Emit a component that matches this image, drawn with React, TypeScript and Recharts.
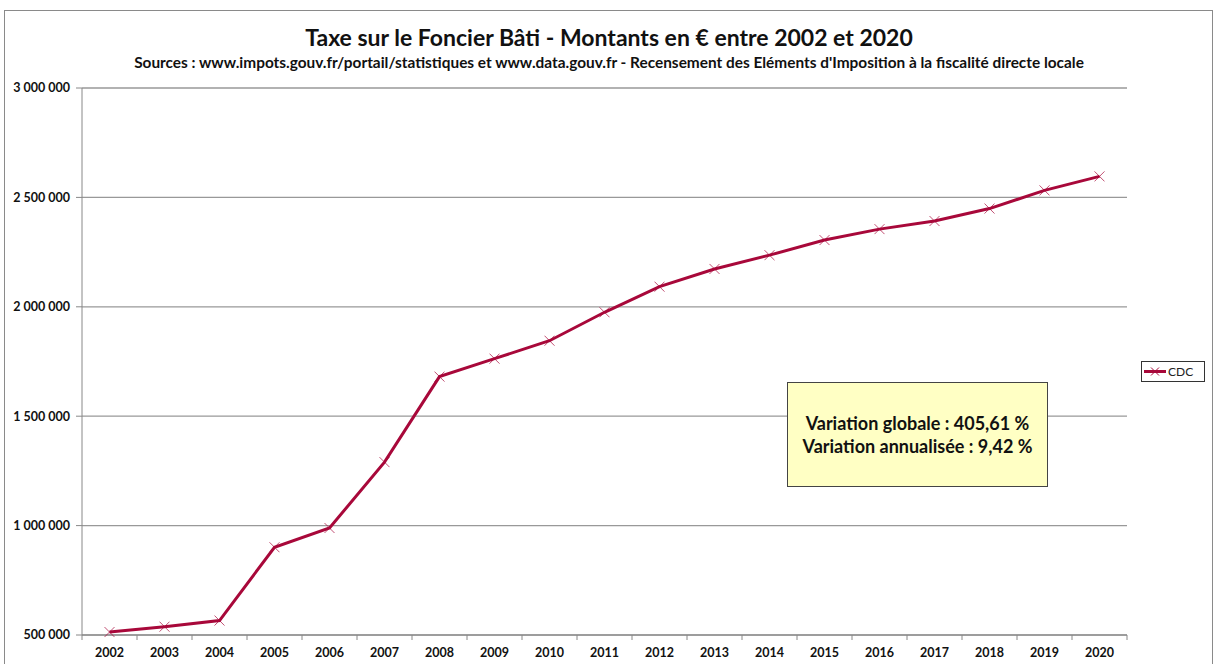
import React from "react";
import { LineChart, Line, XAxis, YAxis, CartesianGrid, Legend } from "recharts";

const years = ["2002","2003","2004","2005","2006","2007","2008","2009","2010","2011","2012","2013","2014","2015","2016","2017","2018","2019","2020"];
const cdcValues = [513500, 538000, 566000, 901000, 989000, 1290000, 1681000, 1763000, 1845000, 1975000, 2092000, 2173000, 2236000, 2305000, 2355000, 2392000, 2449000, 2532000, 2596000];
const yTicks = [500000, 1000000, 1500000, 2000000, 2500000, 3000000];
const seriesName = "CDC";
const titleText = "Taxe sur le Foncier Bâti - Montants en € entre 2002 et 2020";
const subtitleText = "Sources : www.impots.gouv.fr/portail/statistiques et www.data.gouv.fr - Recensement des Eléments d'Imposition à la fiscalité directe locale";
const noteLines = ["Variation globale : 405,61 %", "Variation annualisée : 9,42 %"];

const data = years.map((y, i) => ({ year: y, CDC: cdcValues[i] }));

const LINE_COLOR = "#A8083A";
const FONT = "Lato, 'Open Sans', sans-serif";

const fmt = (v: number) => String(v).replace(/\B(?=(\d{3})+(?!\d))/g, " ");

const XMarker = (props: any) => {
  const { cx, cy } = props;
  if (cx == null || cy == null) return null;
  const s = 5;
  return (
    <g>
      <line x1={cx - s} y1={cy - s} x2={cx + s} y2={cy + s} stroke={LINE_COLOR} strokeWidth={1} opacity={0.7} />
      <line x1={cx - s} y1={cy + s} x2={cx + s} y2={cy - s} stroke={LINE_COLOR} strokeWidth={1} opacity={0.7} />
    </g>
  );
};

const BAND = 55;

const XTick = (props: any) => {
  const { x, y, payload, index } = props;
  const last = index === years.length - 1;
  return (
    <g>
      <line x1={x - BAND / 2} y1={y - 8} x2={x - BAND / 2} y2={y - 3} stroke="#888" strokeWidth={1} />
      {last && <line x1={x + BAND / 2} y1={y - 8} x2={x + BAND / 2} y2={y - 3} stroke="#888" strokeWidth={1} />}
      <text x={x} y={y + 14} textAnchor="middle" fontFamily={FONT} fontWeight="bold" fontSize={12.5} fill="#111">
        {payload.value}
      </text>
    </g>
  );
};

const LegendContent = () => (
  <div style={{ border: "1px solid #333", width: 64, height: 21, boxSizing: "border-box", display: "flex", alignItems: "center", background: "#fff" }}>
    <svg width={26} height={19}>
      <line x1={2} y1={9.5} x2={24} y2={9.5} stroke={LINE_COLOR} strokeWidth={3} />
      <line x1={9} y1={5.5} x2={17} y2={13.5} stroke={LINE_COLOR} strokeWidth={1} />
      <line x1={9} y1={13.5} x2={17} y2={5.5} stroke={LINE_COLOR} strokeWidth={1} />
    </svg>
    <span style={{ fontFamily: FONT, fontSize: 12, color: "#222" }}>{seriesName}</span>
  </div>
);

export default function App() {
  return (
    <div style={{ position: "absolute", left: 0, top: 0, width: 1215, height: 664, background: "#fff", overflow: "hidden" }}>
      <div style={{ position: "absolute", left: 4, top: 10, width: 1209, height: 670, border: "1px solid #8a8a8a", boxSizing: "border-box" }} />
      <div style={{ position: "absolute", left: 0, top: 23, width: 1218, textAlign: "center", fontFamily: FONT, fontWeight: "bold", fontSize: 23, lineHeight: "28px", color: "#111" }}>
        {titleText}
      </div>
      <div style={{ position: "absolute", left: 0, top: 52, width: 1218, textAlign: "center", fontFamily: FONT, fontWeight: "bold", fontSize: 15.4, lineHeight: "20px", color: "#111" }}>
        {subtitleText}
      </div>
      <div style={{ position: "absolute", left: 0, top: 0 }}>
        <LineChart width={1215} height={664} data={data} margin={{ top: 88, right: 88, bottom: 4, left: 12 }}>
          <CartesianGrid vertical={false} stroke="#999" strokeWidth={1.3} />
          <XAxis
            dataKey="year"
            interval={0}
            padding={{ left: BAND / 2, right: BAND / 2 }}
            axisLine={{ stroke: "#888" }}
            tickLine={false}
            tick={<XTick />}
            height={25}
          />
          <YAxis
            domain={[500000, 3000000]}
            ticks={yTicks}
            interval={0}
            width={70}
            tickFormatter={fmt}
            axisLine={{ stroke: "#888" }}
            tickLine={{ stroke: "#888" }}
            tickSize={6}
            tickMargin={6}
            tick={{ fontFamily: FONT, fontWeight: "bold", fontSize: 12.5, fill: "#111" }}
          />
          <Legend
            layout="horizontal"
            verticalAlign="middle"
            align="center"
            content={<LegendContent />}
            wrapperStyle={{ position: "absolute", left: 1141, top: 361, width: 64, height: 21 }}
          />
          <Line
            type="linear"
            dataKey="CDC"
            name={seriesName}
            stroke={LINE_COLOR}
            strokeWidth={3}
            dot={<XMarker />}
            activeDot={false}
            isAnimationActive={false}
          />
        </LineChart>
      </div>
      <div style={{ position: "absolute", left: 787, top: 382, width: 261, height: 105, boxSizing: "border-box", border: "1.5px solid #444", background: "#FFFFC4", display: "flex", flexDirection: "column", justifyContent: "center", alignItems: "center", fontFamily: FONT, fontWeight: "bold", fontSize: 18, color: "#111", lineHeight: "23px" }}>
        {noteLines.map((l) => (
          <div key={l}>{l}</div>
        ))}
      </div>
    </div>
  );
}
